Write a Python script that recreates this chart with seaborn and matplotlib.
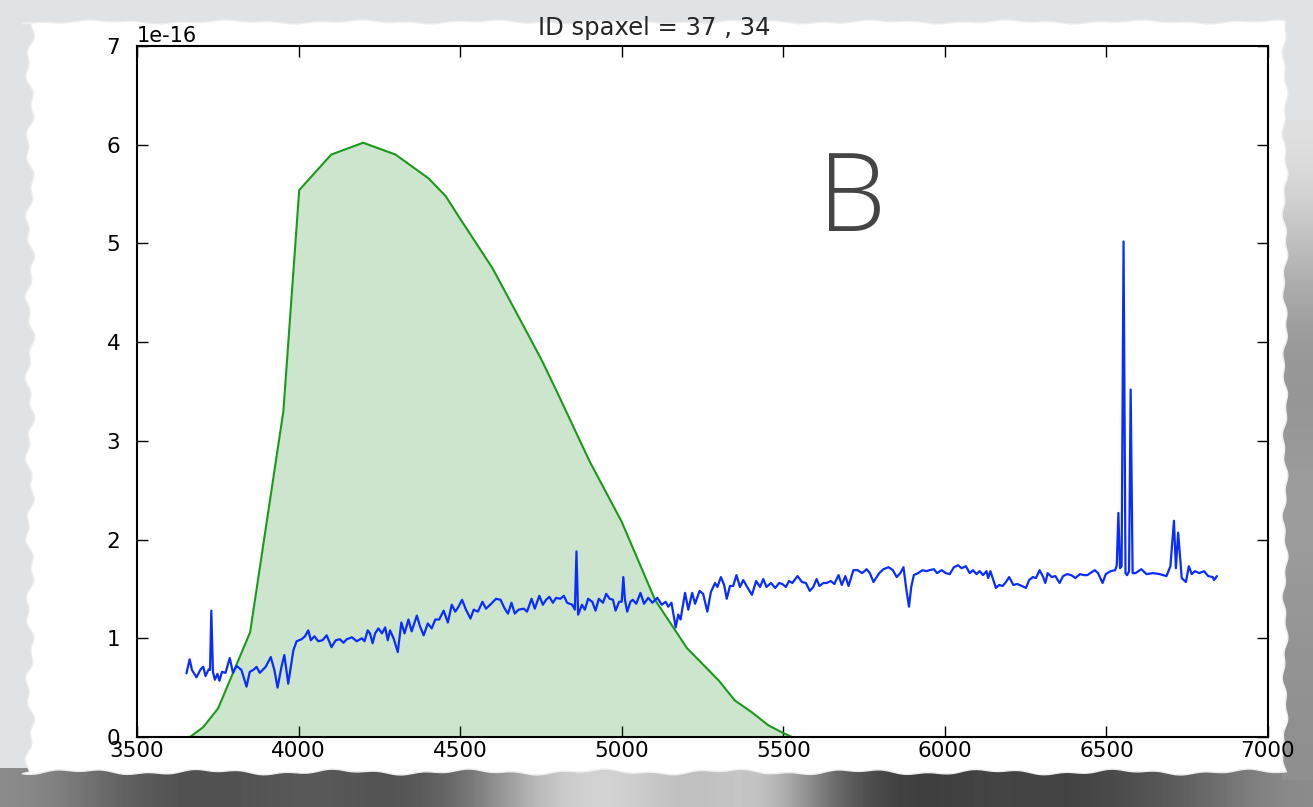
import numpy as np
import matplotlib
matplotlib.use("Agg")
import matplotlib.pyplot as plt
import seaborn as sns
from matplotlib.patches import Polygon

TITLE = "ID spaxel = 37 , 34"
FILTER_NAME = "B"
SCALE = 1e-16

# Filter transmission curve (in units of 1e-16, as plotted)
filter_wave = [3664, 3705, 3751, 3850, 3953, 4002, 4101, 4200, 4300, 4402, 4455,
               4500, 4600, 4700, 4752, 4802, 4901, 5000, 5103, 5202, 5301, 5350,
               5403, 5453, 5500, 5527]
filter_flux = [0.0, 0.10, 0.29, 1.06, 3.30, 5.54, 5.90, 6.02, 5.90, 5.66, 5.48,
               5.25, 4.75, 4.14, 3.82, 3.48, 2.79, 2.18, 1.39, 0.90, 0.57, 0.37,
               0.25, 0.12, 0.04, 0.0]

# Spectrum (wavelength in Angstrom, flux in units of 1e-16)
spec_wave = [
    3653, 3663, 3670, 3684, 3697, 3705, 3712, 3722, 3726, 3730, 3735, 3741, 3749,
    3755, 3763, 3774, 3787, 3797, 3808, 3823, 3839, 3849, 3860, 3870, 3880, 3898,
    3914, 3925, 3935, 3947, 3956, 3968, 3984, 3994, 4009, 4020, 4030, 4038, 4049,
    4061, 4074, 4087, 4102, 4115, 4128, 4139, 4149, 4165, 4180, 4196, 4204, 4214,
    4221, 4229, 4237, 4247, 4258, 4268, 4276, 4283, 4294, 4307, 4318, 4328, 4340,
    4350, 4366, 4376, 4387, 4400, 4412, 4423, 4435, 4449, 4462, 4474, 4485, 4495,
    4506, 4518, 4532, 4542, 4555, 4569, 4580, 4593, 4611, 4625, 4638, 4648, 4659,
    4669, 4681, 4697, 4707, 4721, 4731, 4745, 4756, 4766, 4776, 4787, 4797, 4810,
    4821, 4831, 4847, 4855, 4860, 4865, 4877, 4886, 4896, 4909, 4919, 4929, 4942,
    4952, 4963, 4973, 4981, 4992, 5000, 5005, 5010, 5017, 5027, 5034, 5045, 5058,
    5069, 5082, 5095, 5110, 5124, 5136, 5144, 5154, 5167, 5175, 5182, 5196, 5206,
    5218, 5227, 5241, 5252, 5265, 5276, 5289, 5296, 5307, 5317, 5325, 5335, 5345,
    5355, 5366, 5376, 5390, 5403, 5416, 5428, 5438, 5448, 5462, 5475, 5487, 5497,
    5508, 5518, 5528, 5544, 5558, 5570, 5582, 5593, 5603, 5612, 5624, 5634, 5647,
    5658, 5671, 5681, 5692, 5702, 5717, 5730, 5744, 5758, 5768, 5779, 5787, 5797,
    5810, 5826, 5839, 5851, 5862, 5872, 5881, 5889, 5896, 5904, 5917, 5931, 5943,
    5953, 5966, 5976, 5990, 6003, 6015, 6028, 6041, 6052, 6065, 6077, 6087, 6098,
    6108, 6118, 6129, 6134, 6141, 6149, 6158, 6168, 6179, 6189, 6199, 6212, 6224,
    6238, 6251, 6261, 6272, 6282, 6293, 6303, 6311, 6318, 6331, 6342, 6355, 6366,
    6378, 6391, 6404, 6418, 6430, 6441, 6450, 6464, 6474, 6488, 6498, 6513, 6527,
    6532, 6537, 6542, 6547, 6553, 6559, 6564, 6570, 6575, 6581, 6590, 6608, 6624,
    6644, 6665, 6686, 6698, 6709, 6715, 6722, 6733, 6746, 6755, 6764, 6774, 6787,
    6802, 6815, 6829, 6833, 6842]
spec_flux = [
    0.645, 0.787, 0.68, 0.605, 0.686, 0.712, 0.618, 0.686, 0.68, 1.28, 0.66, 0.58, 0.64,
    0.57, 0.66, 0.65, 0.80, 0.65, 0.72, 0.68, 0.51, 0.66, 0.68, 0.71, 0.65, 0.71,
    0.81, 0.68, 0.50, 0.71, 0.83, 0.54, 0.88, 0.97, 0.99, 1.02, 1.08, 0.98, 1.02,
    0.97, 0.98, 1.03, 0.91, 0.98, 0.99, 0.955, 0.99, 1.01, 0.97, 1.00, 0.97, 1.08,
    1.05, 0.95, 1.05, 1.10, 1.05, 1.11, 0.98, 1.08, 1.00, 0.86, 1.16, 1.05, 1.19,
    1.07, 1.23, 1.12, 1.03, 1.15, 1.10, 1.19, 1.19, 1.28, 1.16, 1.34, 1.27, 1.32,
    1.39, 1.29, 1.20, 1.29, 1.27, 1.37, 1.30, 1.34, 1.40, 1.39, 1.30, 1.25, 1.36,
    1.25, 1.29, 1.30, 1.27, 1.40, 1.30, 1.43, 1.34, 1.39, 1.42, 1.36, 1.41, 1.40,
    1.43, 1.36, 1.34, 1.29, 1.88, 1.24, 1.34, 1.29, 1.40, 1.37, 1.28, 1.40, 1.36,
    1.45, 1.40, 1.39, 1.28, 1.37, 1.37, 1.62, 1.39, 1.27, 1.37, 1.39, 1.35, 1.46,
    1.35, 1.41, 1.36, 1.41, 1.34, 1.37, 1.32, 1.36, 1.11, 1.24, 1.19, 1.46, 1.29,
    1.46, 1.35, 1.48, 1.45, 1.27, 1.47, 1.56, 1.52, 1.62, 1.54, 1.40, 1.53, 1.53,
    1.64, 1.52, 1.59, 1.51, 1.44, 1.58, 1.52, 1.60, 1.52, 1.56, 1.51, 1.56, 1.55,
    1.52, 1.58, 1.56, 1.63, 1.57, 1.56, 1.48, 1.52, 1.60, 1.53, 1.56, 1.56, 1.58,
    1.55, 1.64, 1.54, 1.63, 1.53, 1.69, 1.69, 1.66, 1.70, 1.66, 1.57, 1.61, 1.66,
    1.70, 1.72, 1.69, 1.62, 1.66, 1.72, 1.49, 1.32, 1.52, 1.64, 1.66, 1.69, 1.68,
    1.69, 1.70, 1.66, 1.69, 1.66, 1.65, 1.72, 1.74, 1.71, 1.73, 1.66, 1.69, 1.65,
    1.68, 1.64, 1.68, 1.61, 1.68, 1.60, 1.51, 1.54, 1.53, 1.57, 1.62, 1.54, 1.55,
    1.53, 1.51, 1.59, 1.62, 1.61, 1.69, 1.63, 1.56, 1.66, 1.62, 1.63, 1.56, 1.63,
    1.65, 1.64, 1.61, 1.65, 1.64, 1.64, 1.66, 1.69, 1.66, 1.56, 1.65, 1.68, 1.69,
    1.74, 2.27, 1.71, 1.73, 5.02, 1.66, 1.64, 1.68, 3.52, 1.66, 1.66, 1.70, 1.65,
    1.66, 1.65, 1.63, 1.73, 2.19, 1.71, 2.07, 1.61, 1.57, 1.73, 1.65, 1.68, 1.66,
    1.68, 1.63, 1.62, 1.59, 1.63]

x_ticks = [3500, 4000, 4500, 5000, 5500, 6000, 6500, 7000]
y_ticks = [0, 1, 2, 3, 4, 5, 6, 7]

sns.set_style("ticks")
plt.rcParams['font.family'] = ['DejaVu Sans']
plt.rcParams['axes.unicode_minus'] = False

W, H = 1313, 807
fig = plt.figure(figsize=(W / 100, H / 100), dpi=100)
fig.patch.set_facecolor('#dfe3e6')

# ---- decorative torn-paper background ----
bg = fig.add_axes([0, 0, 1, 1], zorder=-10)
bg.set_xlim(0, W)
bg.set_ylim(H, 0)
bg.axis('off')
band = np.array([[0.55, 0.40, 0.30, 0.33, 0.36, 0.30, 0.45, 0.80, 0.85, 0.70, 0.85,
                  0.35, 0.22, 0.28, 0.25, 0.30, 0.40, 0.55]])
bg.imshow(band, cmap='gray', vmin=0, vmax=1, extent=(0, W, H, 768), aspect='auto',
          interpolation='bicubic', zorder=0)
rband = np.array([[0.88], [0.75], [0.60], [0.58], [0.62], [0.60], [0.58], [0.56]])
bg.imshow(rband, cmap='gray', vmin=0, vmax=1, extent=(1282, W, 780, 120), aspect='auto',
          interpolation='bicubic', zorder=0)
t = np.linspace(0, 1, 300)
jag = lambda s, a: a * (np.sin(t * 61 + s) * 0.6 + np.sin(t * 173 + 2 * s) * 0.4)
top = np.column_stack([22 + t * (1285 - 22), 22 + jag(1, 2)])
right = np.column_stack([1285 + jag(2, 3), 22 + t * (772 - 22)])
bottom = np.column_stack([1285 - t * (1285 - 22), 772 + jag(3, 3)])
left = np.column_stack([30 + jag(4, 5), 772 - t * (772 - 22)])
paper = Polygon(np.vstack([top, right, bottom, left]), closed=True,
                facecolor='white', edgecolor='#eeeeee', lw=1, zorder=1)
bg.add_patch(paper)
bg.set_xlim(0, W)
bg.set_ylim(H, 0)

# ---- main axes ----
ax = fig.add_axes([137 / W, 1 - 737 / H, (1268 - 137) / W, (737 - 46) / H])
ax.set_facecolor('white')

fw = np.array(filter_wave)
ff = np.array(filter_flux) * SCALE
sw = np.array(spec_wave)
sf = np.array(spec_flux) * SCALE

ax.fill_between(fw, 0, ff, color='#008000', alpha=0.2, linewidth=0, zorder=1)
sns.lineplot(x=fw, y=ff, ax=ax, color='#1a9a1a', linewidth=1.5, sort=False,
             estimator=None, zorder=2)
sns.lineplot(x=sw, y=sf, ax=ax, color='#0a2dff', linewidth=1.6, sort=False,
             estimator=None, zorder=3)

ax.set_xlim(3500, 7000)
ax.set_ylim(0, 7 * SCALE)
ax.set_xticks(x_ticks)
ax.set_yticks(np.array(y_ticks) * SCALE)
ax.set_xlabel('')
ax.set_ylabel('')
ax.tick_params(axis='both', direction='in', length=8, width=1, top=True, right=True,
               labelsize=15.5, colors='black')
ax.tick_params(axis='x', pad=3)
ax.tick_params(axis='y', pad=12)
for sp in ax.spines.values():
    sp.set_linewidth(1.5)
    sp.set_color('black')
    sp.set_visible(True)
ax.yaxis.get_offset_text().set_fontsize(15)

ax.text(0.632, 0.773, FILTER_NAME, transform=ax.transAxes, fontsize=78,
        color='#444444', family=['Open Sans', 'DejaVu Sans'], fontweight='light',
        ha='center', va='center')

fig.text(654 / W, 1 - 28 / H, TITLE, ha='center', va='center', fontsize=17.5)

fig.savefig('out.png', dpi=100, facecolor=fig.get_facecolor())
